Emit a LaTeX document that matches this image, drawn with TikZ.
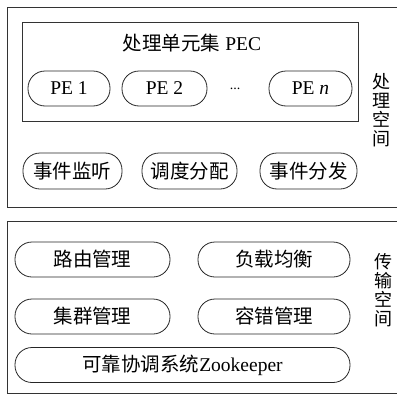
\documentclass[tikz,border=0pt]{standalone}
\usepackage{fontspec}
\setmainfont{Liberation Serif}
\newfontfamily\cjk{Noto Sans CJK SC}
\begin{document}
\begin{tikzpicture}[x=1pt,y=-1pt,
  txt/.style={font=\fontsize{19.5}{22}\selectfont, inner sep=0pt},
  pill/.style={txt, draw=black!85, line width=0.8pt, rounded corners=17pt, minimum height=35pt},
  frame/.style={draw=black!80, line width=1.3pt, inner sep=0pt, anchor=north west},
  inframe/.style={draw=black!80, line width=0.8pt, inner sep=0pt, anchor=north west},
  side/.style={font=\cjk\fontsize{18}{19}\selectfont, align=center, inner sep=0pt}
]
\useasboundingbox (0,0) rectangle (397,394);
% outer frames
\node[frame, minimum width=400pt, minimum height=200pt] (proc) at (7,7) {};
\node[frame, minimum width=400pt, minimum height=172pt] (trans) at (7,221) {};
% PEC box
\node[inframe, minimum width=336pt, minimum height=99pt] (pec) at (22,22) {};
\node[txt] (pectitle) at (192,43) {{\cjk 处理单元集} PEC};
\node[pill, minimum width=82pt] (pe1) at (69,88.5) {PE 1};
\node[pill, minimum width=85pt] (pe2) at (164.5,88.5) {PE 2};
\node[txt] (dots) at (235,88.5) {\fontsize{14}{16}\selectfont ...};
\node[pill, minimum width=83pt] (pen) at (310.5,88.5) {PE \textit{n}};
% processing row
\node[pill, minimum width=99pt, minimum height=36pt] (listen) at (72.5,171) {\cjk 事件监听};
\node[pill, minimum width=95pt, minimum height=36pt] (sched) at (189.5,171) {\cjk 调度分配};
\node[pill, minimum width=97pt, minimum height=36pt] (dispatch) at (308.5,171) {\cjk 事件分发};
\node[side] (proclabel) at (381,110) {处\\理\\空\\间};
% transport
\node[pill, minimum width=155pt] (route) at (92.5,259.5) {\cjk 路由管理};
\node[pill, minimum width=152pt] (balance) at (274,259.5) {\cjk 负载均衡};
\node[pill, minimum width=155pt] (cluster) at (92.5,316.5) {\cjk 集群管理};
\node[pill, minimum width=152pt] (fault) at (274,316.5) {\cjk 容错管理};
\node[pill, minimum width=335pt] (zk) at (182.5,365) {{\cjk 可靠协调系统}Zookeeper};
\node[side] (translabel) at (383,290) {传\\输\\空\\间};
\end{tikzpicture}
\end{document}
